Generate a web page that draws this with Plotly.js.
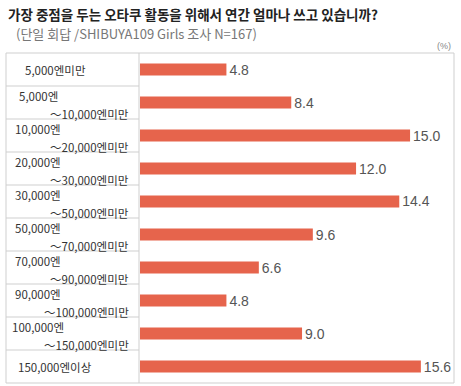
<!DOCTYPE html>
<html><head><meta charset="utf-8">
<script src="https://cdn.plot.ly/plotly-3.0.1.min.js"></script>
<style>body{margin:0;background:#fff}#c{width:461px;height:386px}</style>
</head><body><div id="c"></div>
<script>
const lineTop = ["5,000엔미만","5,000엔","10,000엔","20,000엔","30,000엔","50,000엔","70,000엔","90,000엔","100,000엔","150,000엔이상"];
const lineBottom = ["","～10,000엔미만","～20,000엔미만","～30,000엔미만","～50,000엔미만","～70,000엔미만","～90,000엔미만","～100,000엔미만","～150,000엔미만",""];
const values = [4.8, 8.4, 15.0, 12.0, 14.4, 9.6, 6.6, 4.8, 9.0, 15.6];
const categories = lineTop.map((t,i)=> t + lineBottom[i]);

const W=461, H=386, L=140, R=7, T=53, B=3;
const pw=W-L-R, ph=H-T-B;
const px = x => (x-L)/pw;
const py = y => (H-B-y)/ph;

const labelFont = {family:"Noto Sans CJK KR", size:11.5, color:"#333"};
const annotations = [];
categories.forEach((c,i)=>{
  if(lineBottom[i]===""){
    annotations.push({xref:'paper', yref:'y', x:px(55), y:c, text:lineTop[i], showarrow:false, xanchor:'center', yanchor:'middle', font:labelFont});
  } else {
    annotations.push({xref:'paper', yref:'y', x:px(38), y:c, yshift:-2, text:lineTop[i], showarrow:false, xanchor:'center', yanchor:'bottom', font:labelFont, borderpad:0});
    annotations.push({xref:'paper', yref:'y', x:px(130), y:c, yshift:-2, text:lineBottom[i], showarrow:false, xanchor:'right', yanchor:'top', font:labelFont, borderpad:0});
  }
});
annotations.push({xref:'paper', yref:'paper', x:px(14), y:py(33), text:"(단일 회답 /SHIBUYA109 Girls 조사 N=167)", showarrow:false, xanchor:'left', yanchor:'middle', font:{family:"Noto Sans CJK KR", size:13, color:"#777"}});
annotations.push({xref:'paper', yref:'paper', x:px(453), y:py(46), text:"(%)", showarrow:false, xanchor:'right', yanchor:'middle', font:{family:"Liberation Sans", size:9, color:"#888"}});

const shapes = [];
const lc = "#cfcfcf";
shapes.push({type:'rect', xref:'paper', yref:'paper', x0:px(6), x1:1, y0:0, y1:1, line:{color:lc, width:1}});
shapes.push({type:'line', xref:'paper', yref:'paper', x0:px(139), x1:px(139), y0:0, y1:1, line:{color:lc, width:1}});
for(let k=1;k<categories.length;k++){
  shapes.push({type:'line', xref:'paper', yref:'paper', x0:px(6), x1:px(139), y0:k/categories.length, y1:k/categories.length, line:{color:lc, width:1}});
}

Plotly.newPlot('c', [{
  type:'bar', orientation:'h', y:categories, x:values,
  marker:{color:'#E6644C'},
  text:values.map(v=>v.toFixed(1)), textposition:'outside', cliponaxis:false, constraintext:'none',
  textfont:{family:"Liberation Sans", size:14, color:"#555"},
  hoverinfo:'none'
}], {
  width:W, height:H,
  margin:{l:L, r:R, t:T, b:B, pad:0},
  paper_bgcolor:'#fff', plot_bgcolor:'#fff',
  bargap:0.63,
  showlegend:false,
  title:{text:"가장 중점을 두는 오타쿠 활동을 위해서 연간 얼마나 쓰고 있습니까?", font:{family:"Noto Sans CJK KR", size:13.5, color:"#222", weight:700}, xref:'container', yref:'container', x:8/W, xanchor:'left', y:1-15/H, yanchor:'middle'},
  xaxis:{range:[0,17.44], visible:false, fixedrange:true},
  yaxis:{autorange:'reversed', showticklabels:false, showgrid:false, zeroline:false, showline:false, ticks:''},
  annotations, shapes
}, {staticPlot:true});
</script></body></html>
